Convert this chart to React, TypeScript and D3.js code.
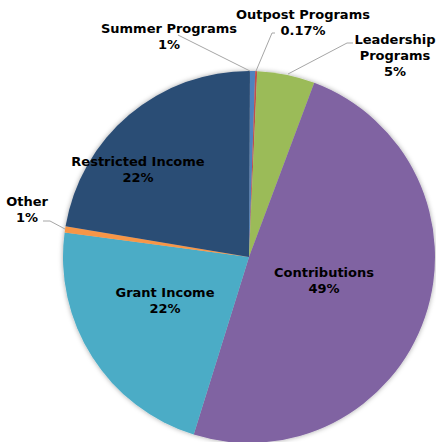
import React from "react";
import * as d3 from "d3";

const categories = [
  "Summer Programs",
  "Outpost Programs",
  "Leadership Programs",
  "Contributions",
  "Grant Income",
  "Other",
  "Restricted Income",
];
const values = [0.45, 0.17, 5.0, 49.1, 22.3, 0.53, 22.45];
const labelLines = [
  ["Summer Programs", "1%"],
  ["Outpost Programs", "0.17%"],
  ["Leadership", "Programs", "5%"],
  ["Contributions", "49%"],
  ["Grant Income", "22%"],
  ["Other", "1%"],
  ["Restricted Income", "22%"],
];
const colors = ["#4f81bd", "#c0504d", "#9bbb59", "#8064a2", "#4bacc6", "#f79646", "#2c4d75"];

// layout: label centre x, first baseline y
const labelPos: [number, number][] = [
  [169, 33],
  [303, 19],
  [395, 44],
  [324, 277],
  [165, 297],
  [27, 206],
  [138, 166],
];
// leader lines (layout)
const leaders: ([number, number][] | null)[] = [
  [[178, 35], [250, 71]],
  [[275, 33], [272, 33], [256, 71]],
  [[353, 43], [347, 43], [288, 74]],
  null,
  null,
  [[43, 221], [50, 221], [65, 229]],
  null,
];

const W = 436;
const H = 442;
const cx = 249;
const cy = 257;
const R = 186;

export default function App() {
  const start = (0.3 * Math.PI) / 180;
  const pie = d3
    .pie<number>()
    .sort(null)
    .startAngle(start)
    .endAngle(start + 2 * Math.PI);
  const arcs = pie(values);
  const arc = d3.arc<d3.PieArcDatum<number>>().innerRadius(0).outerRadius(R);
  const line = d3.line();

  return (
    <svg
      width={W}
      height={H}
      style={{ position: "absolute", left: 0, top: 0, background: "#fff" }}
    >
      <defs>
        <filter id="sh" x="-10%" y="-10%" width="120%" height="120%">
          <feDropShadow dx="0" dy="0" stdDeviation="2.5" floodColor="#000" floodOpacity="0.35" />
        </filter>
      </defs>
      <g transform={`translate(${cx},${cy})`} filter="url(#sh)">
        {arcs.map((a, i) => (
          <path key={categories[i]} d={arc(a) || ""} fill={colors[i]} />
        ))}
      </g>
      {leaders.map((pts, i) =>
        pts ? (
          <path key={"l" + i} d={line(pts) || ""} fill="none" stroke="#a6a6a6" strokeWidth={1} />
        ) : null
      )}
      {labelLines.map((lines, i) => (
        <text
          key={"t" + i}
          x={labelPos[i][0]}
          y={labelPos[i][1]}
          textAnchor="middle"
          fontFamily="DejaVu Sans, Verdana, sans-serif"
          fontWeight="bold"
          fontSize={13}
          fill="#000"
        >
          {lines.map((s, j) => (
            <tspan key={j} x={labelPos[i][0]} dy={j === 0 ? 0 : 16}>
              {s}
            </tspan>
          ))}
        </text>
      ))}
    </svg>
  );
}
